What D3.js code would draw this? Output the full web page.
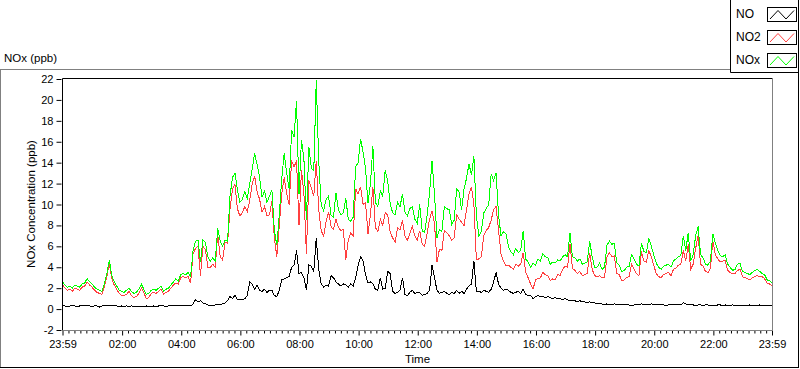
<!DOCTYPE html>
<html>
<head>
<meta charset="utf-8">
<script src="https://cdn.jsdelivr.net/npm/d3@7/dist/d3.min.js"></script>
<style>
  body { margin: 0; background: #fff; }
  svg { display: block; font-family: "Liberation Sans", Arial, sans-serif; }
  .axis text { font-size: 11px; fill: #000; }
  .axis path { display: none; }
  .axis line { stroke: #000; }
</style>
</head>
<body>
<div id="chart"></div>
<script>
// Readings every 5 minutes, starting at 23:59 of the previous day (minute -1)
var startMinute = -1;
var stepMinutes = 5;

// NO (ppb), one row per hour (first value is 23:59)
var noValues = [0.3,
  0.3,0.2,0.3,0.3,0.3,0.2,0.3,0.3,0.3,0.3,0.3,0.2,
  0.3,0.3,0.2,0.3,0.3,0.3,0.3,0.3,0.3,0.3,0.2,0.3,
  0.2,0.3,0.2,0.3,0.2,0.2,0.3,0.2,0.2,0.3,0.2,0.2,
  0.3,0.2,0.3,0.3,0.3,0.2,0.3,0.3,0.3,0.3,0.3,0.3,
  0.3,0.3,0.3,0.3,0.5,0.9,0.7,0.8,0.6,0.5,0.4,0.3,
  0.3,0.4,0.4,0.4,0.5,0.6,0.8,1.2,1.0,1.3,0.9,0.9,
  0.9,1.0,1.3,2.6,2.4,1.9,2.3,1.8,1.7,1.9,1.6,1.8,
  1.8,1.3,1.2,1.8,2.8,2.9,3.0,3.1,4.0,4.2,5.6,3.4,
  3.5,3.0,1.8,4.2,4.1,3.6,6.8,3.8,2.4,2.1,2.3,2.2,
  3.2,3.0,2.6,2.4,2.2,2.4,2.3,2.1,2.4,2.2,3.0,4.2,
  5.0,4.6,3.3,2.5,2.6,2.4,1.9,1.8,3.0,1.9,2.0,3.6,
  3.4,1.7,1.5,1.6,1.8,3.0,1.4,1.3,1.6,1.8,1.5,1.6,
  1.6,1.3,1.4,1.5,1.8,4.2,3.0,1.8,1.5,1.6,1.7,1.5,
  1.4,1.6,1.5,1.8,1.5,1.7,1.5,1.9,2.2,2.4,4.6,1.7,
  1.7,1.6,1.8,1.7,1.6,1.9,2.6,3.5,2.4,2.0,1.8,1.9,
  1.8,1.6,1.5,1.6,1.7,1.5,1.9,1.4,1.3,1.3,1.0,1.2,
  1.3,1.2,1.2,1.1,1.2,1.1,1.0,1.1,1.0,1.0,0.9,1.0,
  0.9,0.8,0.8,0.8,0.7,0.8,0.7,0.7,0.6,0.7,0.6,0.6,
  0.5,0.5,0.5,0.4,0.5,0.4,0.4,0.5,0.4,0.4,0.4,0.4,
  0.4,0.4,0.3,0.4,0.4,0.4,0.5,0.4,0.4,0.4,0.5,0.4,
  0.4,0.4,0.4,0.4,0.3,0.4,0.4,0.4,0.4,0.4,0.4,0.6,
  0.5,0.4,0.4,0.4,0.3,0.4,0.4,0.3,0.4,0.4,0.3,0.4,
  0.3,0.4,0.4,0.3,0.4,0.3,0.3,0.4,0.3,0.3,0.4,0.3,
  0.3,0.3,0.4,0.3,0.3,0.3,0.4,0.3,0.3,0.3,0.3,0.3];

// NO2 (ppb)
var no2Values = [2.3,
  2.0,1.8,1.9,1.7,2.0,1.9,1.8,2.1,2.2,2.6,2.3,2.1,
  1.8,1.6,1.5,1.4,2.1,3.1,4.4,2.9,2.3,1.9,1.5,1.3,
  1.3,1.4,1.7,1.3,1.1,1.2,1.5,2.0,1.6,1.0,1.1,1.5,
  1.6,1.5,1.7,1.9,1.4,1.6,1.7,2.0,2.3,2.5,2.4,3.0,
  3.1,3.0,3.1,2.5,5.3,5.8,6.0,3.2,6.0,5.7,4.0,4.0,
  4.3,4.0,7.2,5.0,4.7,6.4,6.3,9.6,11.5,11.9,9.6,8.9,
  9.2,9.8,9.3,10.4,12.0,12.7,11.2,10.5,9.3,9.8,8.9,9.0,
  10.3,6.8,5.0,8.0,11.0,12.6,11.0,10.0,14.2,13.6,14.2,8.0,
  13.3,11.0,5.3,12.3,11.6,10.8,14.2,9.5,7.5,7.0,8.4,9.3,
  7.9,7.6,8.6,7.8,7.5,7.6,4.7,6.6,7.3,7.0,11.5,11.0,
  11.7,10.0,10.2,7.2,9.0,11.7,7.8,7.4,8.6,8.0,9.2,9.0,
  7.4,6.8,6.4,7.8,7.6,8.5,7.0,6.6,7.2,7.9,7.0,6.6,
  7.5,6.2,6.0,7.2,8.6,9.4,8.2,4.5,5.7,5.6,7.5,7.3,
  7.0,6.6,6.8,9.0,8.6,8.3,8.0,9.5,11.0,11.7,10.0,4.7,
  4.8,5.0,7.0,7.5,7.8,8.5,9.5,9.8,7.5,5.3,4.6,4.1,
  4.2,4.0,3.8,4.3,4.1,4.3,5.4,3.5,3.0,2.4,1.9,2.8,
  2.9,3.0,3.5,3.3,3.2,2.7,2.9,2.8,3.3,3.2,3.8,4.1,
  4.0,6.2,3.9,3.7,3.4,3.6,3.2,3.3,3.4,5.4,3.8,3.2,
  3.1,3.2,3.0,3.0,5.0,5.4,5.0,5.1,3.4,3.3,2.7,2.8,
  3.0,3.1,4.3,3.8,3.4,3.2,5.5,4.6,4.5,5.6,5.0,4.2,
  3.4,3.1,3.0,3.3,3.4,3.5,3.2,3.8,3.9,4.2,4.3,5.6,
  4.6,6.2,3.8,4.3,5.8,7.0,4.3,4.1,3.6,3.5,3.9,6.5,
  5.2,4.8,4.5,4.6,4.6,3.7,3.5,3.4,3.4,3.7,3.8,3.1,
  3.0,2.9,2.8,3.0,3.1,3.2,3.1,3.1,2.9,2.5,2.4,2.2];

// NOx (ppb)
var noxValues = [2.6,
  2.3,2.1,2.2,2.0,2.3,2.2,2.1,2.4,2.5,2.9,2.6,2.4,
  2.1,1.9,1.8,1.7,2.4,3.4,4.7,3.2,2.6,2.2,1.8,1.7,
  1.6,1.8,2.0,1.7,1.5,1.6,1.9,2.4,1.9,1.4,1.5,1.8,
  1.9,1.8,2.0,2.2,1.7,1.9,2.0,2.3,2.6,2.9,2.7,3.3,
  3.4,3.3,3.5,3.1,5.6,6.5,6.6,4.5,6.6,6.4,5.0,4.6,
  4.9,4.6,7.7,6.5,6.0,6.6,6.5,10.8,12.6,13.0,11.4,10.2,
  10.5,11.2,10.6,12.0,13.4,14.9,13.8,12.6,10.7,11.3,10.2,10.8,
  11.4,7.5,6.1,9.0,12.5,14.9,13.0,11.5,17.1,16.5,19.9,11.0,
  16.2,14.3,8.5,15.5,13.5,13.2,21.9,14.2,10.0,9.4,10.5,10.8,
  9.0,8.8,11.1,9.5,9.0,9.2,10.6,8.6,8.4,8.8,13.6,14.0,
  16.3,15.0,13.5,10.1,12.0,15.6,10.2,9.8,11.3,10.8,13.3,12.2,
  10.1,9.2,9.0,10.2,9.8,11.0,9.3,8.9,9.6,9.8,8.6,8.2,
  10.0,7.5,7.3,9.0,11.1,14.2,11.0,6.8,7.6,7.4,9.8,9.6,
  9.5,8.1,8.5,11.5,11.2,9.5,11.5,12.5,13.9,12.8,14.6,8.9,
  7.0,7.4,9.2,9.6,10.0,12.9,12.3,13.0,9.0,7.0,7.4,7.2,
  6.0,5.5,5.2,5.8,5.4,5.6,7.5,4.8,4.5,4.0,4.4,4.2,
  4.8,4.6,5.3,5.0,4.9,4.3,4.5,4.4,4.7,4.6,5.0,5.2,
  5.0,7.3,5.0,4.9,4.6,4.8,4.3,4.4,4.5,6.5,5.0,4.0,
  4.0,4.4,3.8,4.0,6.1,6.5,6.2,6.3,4.4,4.2,3.6,3.7,
  4.0,4.1,5.2,4.8,4.3,4.1,6.3,5.5,5.4,6.8,6.0,5.2,
  4.4,4.0,3.8,4.1,4.2,4.3,4.0,4.6,4.8,5.0,5.1,7.0,
  5.6,7.3,4.6,5.2,7.0,7.9,5.2,4.9,4.3,4.2,4.6,7.2,
  6.3,5.6,5.1,5.0,5.2,4.3,4.0,3.7,3.8,4.3,4.4,3.6,
  3.5,3.4,3.3,3.5,3.7,3.8,3.6,3.4,3.3,2.8,2.7,2.5];

// Series names and plot colors
var seriesNames = ["NO", "NO2", "NOx"];
var seriesColors = ["#000000", "#ff4040", "#00ff00"];

// X axis major ticks (minutes from midnight) and labels
var xTickMinutes = [-1, 120, 240, 360, 480, 600, 720, 840, 960, 1080, 1200, 1320, 1439];
var xTickLabels = ["23:59", "02:00", "04:00", "06:00", "08:00", "10:00", "12:00",
                   "14:00", "16:00", "18:00", "20:00", "22:00", "23:59"];
var yTicks = [-2, 0, 2, 4, 6, 8, 10, 12, 14, 16, 18, 20, 22];

var width = 800, height = 369;
var plot = {left: 62.5, top: 78.5, right: 772.5, bottom: 330.5};

var svg = d3.select("#chart").append("svg")
    .attr("width", width)
    .attr("height", height);

// Outer panel frame
svg.append("line").attr("x1", 0).attr("y1", 69.5).attr("x2", 730).attr("y2", 69.5)
    .attr("stroke", "#808080");
svg.append("line").attr("x1", 0.5).attr("y1", 69.5).attr("x2", 0.5).attr("y2", 367.5)
    .attr("stroke", "#808080");
svg.append("line").attr("x1", 0).attr("y1", 367.5).attr("x2", 799).attr("y2", 367.5)
    .attr("stroke", "#000");
svg.append("line").attr("x1", 798.5).attr("y1", 0).attr("x2", 798.5).attr("y2", 368)
    .attr("stroke", "#000");

// Title
svg.append("text")
    .attr("x", 4)
    .attr("y", 62)
    .style("font-size", "11.5px")
    .text("NOx (ppb)");

var x = d3.scaleLinear()
    .domain([-1, 1439])
    .range([plot.left, plot.right - 0.5]);
var y = d3.scaleLinear()
    .domain([-2, 22])
    .range([plot.bottom - 0.5, plot.top + 0.5]);

// Build the data table from the arrays
var series = [noValues, no2Values, noxValues].map(function(vals, k) {
    return {
        name: seriesNames[k],
        color: seriesColors[k],
        values: vals.map(function(v, i) { return {t: startMinute + i * stepMinutes, v: v}; })
    };
});

// Minor ticks: 9 evenly spaced between each pair of majors
var minorTicks = [];
for (var i = 0; i < xTickMinutes.length - 1; i++) {
    var a = xTickMinutes[i], b = xTickMinutes[i + 1];
    for (var j = 1; j < 10; j++) minorTicks.push(a + (b - a) * j / 10);
}

svg.append("g")
    .attr("class", "x axis minor")
    .attr("transform", "translate(0," + plot.bottom + ")")
    .call(d3.axisBottom(x).tickValues(minorTicks).tickSize(3).tickFormat(""));

svg.append("g")
    .attr("class", "x axis")
    .attr("transform", "translate(0," + plot.bottom + ")")
    .call(d3.axisBottom(x)
        .tickValues(xTickMinutes)
        .tickSize(5)
        .tickPadding(5)
        .tickFormat(function(d, i) { return xTickLabels[i]; }));

svg.append("g")
    .attr("class", "y axis")
    .attr("transform", "translate(" + (plot.left - 1) + ",0)")
    .call(d3.axisLeft(y)
        .tickValues(yTicks)
        .tickSize(5)
        .tickPadding(3)
        .tickFormat(function(d) { return String(d); }));

// Axis titles
svg.append("text")
    .attr("x", (plot.left + plot.right) / 2)
    .attr("y", 363)
    .attr("text-anchor", "middle")
    .style("font-size", "11.5px")
    .text("Time");

svg.append("text")
    .attr("text-anchor", "middle")
    .attr("transform", "translate(35,204) rotate(-90)")
    .style("font-size", "11.5px")
    .text("NOx Concentration (ppb)");

// Plot lines, clipped to the plot area
svg.append("clipPath").attr("id", "clip")
    .append("rect")
    .attr("x", plot.left).attr("y", plot.top)
    .attr("width", plot.right - plot.left).attr("height", plot.bottom - plot.top);

var line = d3.line()
    .x(function(d) { return x(d.t); })
    .y(function(d) { return y(d.v); });

svg.append("g")
    .attr("clip-path", "url(#clip)")
    .selectAll("path")
    .data(series)
    .enter().append("path")
    .attr("fill", "none")
    .attr("stroke", function(d) { return d.color; })
    .attr("stroke-width", 1)
    .attr("shape-rendering", "crispEdges")
    .attr("d", function(d) { return line(d.values); });

// Plot frame: dark on top/left, grey on right/bottom
svg.append("path")
    .attr("d", "M" + plot.left + "," + plot.bottom + "V" + plot.top + "H" + plot.right)
    .attr("fill", "none").attr("stroke", "#000");
svg.append("path")
    .attr("d", "M" + plot.right + "," + plot.top + "V" + plot.bottom + "H" + plot.left)
    .attr("fill", "none").attr("stroke", "#808080");

// Legend box
svg.append("path")
    .attr("d", "M730.5,0V72.5H799")
    .attr("fill", "none").attr("stroke", "#000");

var legend = svg.selectAll(".legend")
    .data(series)
    .enter().append("g")
    .attr("class", "legend")
    .attr("transform", function(d, i) { return "translate(0," + i * 23 + ")"; });

legend.append("text")
    .attr("x", 736)
    .attr("y", 18)
    .style("font-size", "12px")
    .text(function(d) { return d.name; });

legend.append("rect")
    .attr("x", 767.5)
    .attr("y", 7.5)
    .attr("width", 29)
    .attr("height", 14)
    .attr("fill", "#fff")
    .attr("stroke", "#000");

legend.append("polyline")
    .attr("points", "770,19 778,10.5 786,19 794,10.5")
    .attr("fill", "none")
    .attr("stroke", function(d) { return d.color; });
</script>
</body>
</html>
